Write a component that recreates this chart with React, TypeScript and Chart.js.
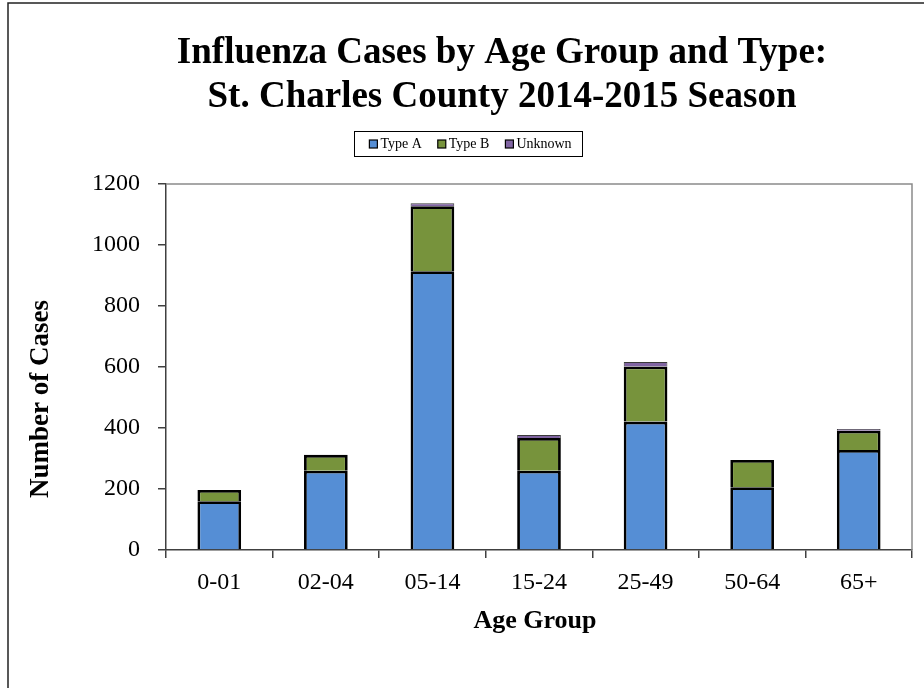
import React, { useEffect, useRef } from "react";
import { Chart, registerables } from "chart.js";

Chart.register(...registerables);

const categories = ["0-01", "02-04", "05-14", "15-24", "25-49", "50-64", "65+"];
const typeA = [160, 260, 914, 260, 421, 206, 328];
const typeB = [37, 52, 213, 107, 181, 89, 63];
const unknown = [0, 0, 10, 10, 14, 0, 6];
const seriesNames = ["Type A", "Type B", "Unknown"];
const seriesColors = ["#558ED5", "#77933C", "#8064A2"];
const yMin = 0;
const yMax = 1200;
const yStep = 200;
const titleLines = [
  "Influenza Cases by Age Group and Type:",
  "St. Charles County 2014-2015 Season",
];
const xTitle = "Age Group";
const yTitle = "Number of Cases";

const SERIF = '"Liberation Serif", "Times New Roman", serif';

const decor = {
  id: "decor",
  beforeDraw(chart: any) {
    const ctx = chart.ctx;
    ctx.save();
    ctx.fillStyle = "#ffffff";
    ctx.fillRect(0, 0, chart.width, chart.height);
    ctx.strokeStyle = "#222";
    ctx.lineWidth = 1.5;
    ctx.beginPath();
    ctx.moveTo(chart.width, 3);
    ctx.lineTo(8, 3);
    ctx.lineTo(8, chart.height);
    ctx.stroke();
    ctx.restore();
  },
  afterDraw(chart: any) {
    const ctx = chart.ctx;
    const area = chart.chartArea;
    ctx.save();
    // plot frame top / right
    ctx.strokeStyle = "#8a8a8a";
    ctx.lineWidth = 1.5;
    ctx.beginPath();
    ctx.moveTo(area.left, area.top);
    ctx.lineTo(area.right, area.top);
    ctx.lineTo(area.right, area.bottom);
    ctx.stroke();

    // title
    ctx.fillStyle = "#000";
    ctx.textAlign = "center";
    ctx.textBaseline = "alphabetic";
    ctx.font = `bold 37px ${SERIF}`;
    ctx.fillText(titleLines[0], 502, 63);
    ctx.fillText(titleLines[1], 502, 107);

    // legend
    const ds = chart.data.datasets;
    ctx.font = `14px ${SERIF}`;
    const padL = 15, sq = 8, gap = 3, itemGap = 16, padR = 11;
    const widths = ds.map((d: any) => ctx.measureText(d.label).width);
    let total = padL + padR + itemGap * (ds.length - 1);
    widths.forEach((w: number) => (total += sq + gap + w));
    const boxX = 468.5 - total / 2;
    const boxY = 131;
    const boxH = 25;
    ctx.strokeStyle = "#000";
    ctx.lineWidth = 1;
    ctx.strokeRect(Math.round(boxX) + 0.5, boxY + 0.5, Math.round(total), boxH);
    let x = boxX + padL;
    const cy = boxY + boxH / 2 + 0.5;
    ds.forEach((d: any, i: number) => {
      ctx.fillStyle = d.backgroundColor;
      ctx.fillRect(x, cy - sq / 2, sq, sq);
      ctx.strokeStyle = "#000";
      ctx.lineWidth = 1.2;
      ctx.strokeRect(x, cy - sq / 2, sq, sq);
      ctx.fillStyle = "#000";
      ctx.textAlign = "left";
      ctx.textBaseline = "middle";
      ctx.fillText(d.label, x + sq + gap, cy);
      x += sq + gap + widths[i] + itemGap;
    });

    // axis titles
    ctx.fillStyle = "#000";
    ctx.font = `bold 26px ${SERIF}`;
    ctx.textAlign = "center";
    ctx.textBaseline = "middle";
    ctx.fillText(xTitle, 535, 621);
    ctx.save();
    ctx.translate(41, 399);
    ctx.rotate(-Math.PI / 2);
    ctx.font = `bold 27px ${SERIF}`;
    ctx.fillText(yTitle, 0, 0);
    ctx.restore();

    ctx.restore();
  },
};

export default function App() {
  const ref = useRef<HTMLCanvasElement | null>(null);

  useEffect(() => {
    if (!ref.current) return;
    const mk = (i: number, data: number[], bw: number, bc: string) => ({
      label: seriesNames[i],
      data,
      backgroundColor: seriesColors[i],
      borderColor: bc,
      borderWidth: bw,
      barPercentage: 0.41,
      categoryPercentage: 1,
    });
    const chart = new Chart(ref.current, {
      type: "bar",
      data: {
        labels: categories,
        datasets: [
          mk(0, typeA, 2.8, "#000"),
          mk(1, typeB, 2.8, "#000"),
          mk(2, unknown, 1, "#3a3a3a"),
        ],
      },
      options: {
        animation: false,
        responsive: false,
        maintainAspectRatio: false,
        layout: { padding: { top: 184, right: 12, bottom: 0, left: 0 } },
        plugins: {
          legend: { display: false },
          title: { display: false },
          tooltip: { enabled: false },
        },
        scales: {
          x: {
            stacked: true,
            grid: {
              display: true,
              drawOnChartArea: false,
              drawTicks: true,
              tickLength: 8,
              color: "#404040",
              lineWidth: 1.5,
            },
            border: { color: "#404040", width: 1.5 },
            ticks: {
              color: "#000",
              font: { family: SERIF, size: 24 },
              padding: 10,
              maxRotation: 0,
              autoSkip: false,
            },
            afterFit: (s: any) => {
              s.height = 138;
            },
          },
          y: {
            stacked: true,
            min: yMin,
            max: yMax,
            grid: {
              display: true,
              drawOnChartArea: false,
              drawTicks: true,
              tickLength: 8,
              color: "#404040",
              lineWidth: 1.5,
            },
            border: { color: "#404040", width: 1.5 },
            ticks: {
              stepSize: yStep,
              color: "#000",
              font: { family: SERIF, size: 24 },
              padding: 18,
              callback: (v: any) => String(v),
            },
            afterFit: (s: any) => {
              s.width = 166;
            },
          },
        },
      },
      plugins: [decor],
    });
    return () => chart.destroy();
  }, []);

  return (
    <div style={{ position: "absolute", left: 0, top: 0, width: 924, height: 688 }}>
      <canvas ref={ref} width={924} height={688} style={{ display: "block" }} />
    </div>
  );
}
